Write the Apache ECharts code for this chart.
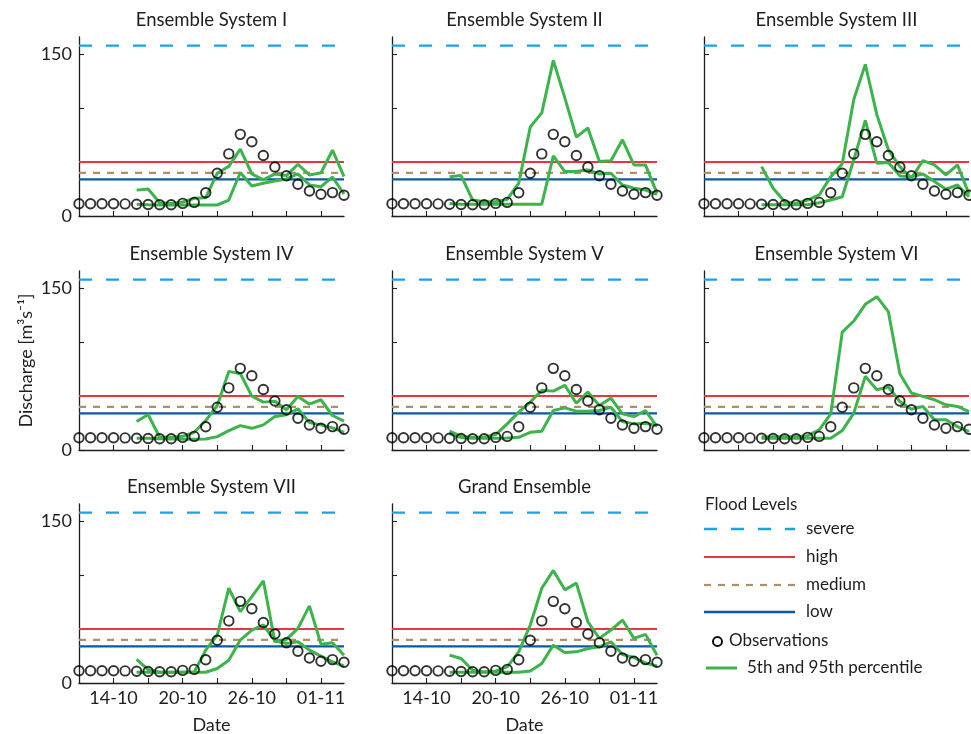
<!DOCTYPE html>
<html><head><meta charset="utf-8">
<script src="https://cdn.jsdelivr.net/npm/echarts@6/dist/echarts.min.js"></script>
<style>html,body{margin:0;padding:0;background:#fff}#c{width:971px;height:734px}</style>
</head><body><div id="c"></div>
<script>
// ---------- data ----------
const dates = ['11-10','12-10','13-10','14-10','15-10','16-10','17-10','18-10','19-10','20-10','21-10','22-10','23-10','24-10','25-10','26-10','27-10','28-10','29-10','30-10','31-10','01-11','02-11','03-11'];
const tickDates = ['14-10','17-10','20-10','23-10','26-10','29-10','01-11'];
const labelDates = ['14-10','20-10','26-10','01-11'];
const yTickValues = [0, 50, 100, 150];
const yLabelValues = [0, 150];
const panelTitles = ['Ensemble System I','Ensemble System II','Ensemble System III','Ensemble System IV','Ensemble System V','Ensemble System VI','Ensemble System VII','Grand Ensemble'];
const floodNames = ['severe','high','medium','low'];
const floodValues = [158, 50, 40, 34];

const observations = [11.4,11.4,11.4,11.3,11.2,10.9,10.6,10.4,10.4,11.7,12.6,21.6,39.7,57.6,75.7,68.9,56.1,45.4,37.3,29.5,23.2,20.2,21.7,19.2];

const p95_I   = [null,null,null,null,null,24,25,12.3,11.7,13,16.4,17,39.7,46,62,39,33.5,39,37.5,48,38,40,61,36.5];
const p5_I    = [null,null,null,null,null,11,10.5,10.2,10.2,10.2,10.2,10.2,10.2,14.8,40.3,27.9,30.4,32.5,34.4,39,28.8,27.2,36,20.4];
const p95_II  = [null,null,null,null,null,36.5,37.5,14.8,13.2,13.2,15.4,30.4,82.5,95.6,144.3,109.5,73.2,81.6,50.5,51.2,70.7,47.4,47.4,21];
const p5_II   = [null,null,null,null,null,11.5,11,10.8,10.8,10.8,10.8,10.8,10.8,10.9,55.8,41.2,41.2,42.8,39,39.7,28.8,25.7,24.1,20.1];
const p95_III = [null,null,null,null,null,45.8,25.7,13.2,11.7,14.8,19.5,36.5,48.4,108,140.6,94,61.4,45.8,35,51.4,47.4,38.1,47.4,20.4];
const p5_III  = [null,null,null,null,null,10.4,10.4,10.4,10.4,10.4,12.3,14.8,17.9,52.1,88.7,49,49.6,37.2,36.5,39,31.9,24.8,28.8,17.9];
const p95_IV  = [null,null,null,null,null,26.4,32.9,11.8,11.8,12.7,16.4,27.3,41.3,72.9,70.8,49.9,44.4,45.3,37.3,49.7,42.5,46.6,32,26.7];
const p5_IV   = [null,null,null,null,null,10.8,10.8,10.5,10.2,9.9,9.9,10.2,12.4,18,22.6,20.1,23.3,31,32.6,38.2,25.4,23.3,20.5,16.4];
const p95_V   = [null,null,null,null,null,17.4,12.7,11.8,11.8,14.3,24.2,35.1,44.4,55.3,54.6,59.9,43.4,53.7,41.3,48.1,33.5,31,36.6,21.7];
const p5_V    = [null,null,null,null,null,15,11.5,10.8,10.8,10.8,11.2,11.8,16.4,17.4,36.6,39.1,36,36,36.6,39.7,26.4,24.2,24.8,22.6];
const p95_VI  = [null,null,null,null,null,12.4,12.4,12.4,12.4,13.3,18.6,33.5,109.3,119.6,135.1,142.2,128.3,70.8,52.8,49.7,46.6,41.9,40.4,35.7];
const p5_VI   = [null,null,null,null,null,10.9,10.9,10.9,10.9,10.9,10.9,10.9,18,34.2,68.3,55.9,58.4,45,37.9,40.4,28,28,21.7,17.1];
const p95_VII = [null,null,null,null,null,21.8,12.5,10,10,10,10.2,30.5,44.4,87.9,66.2,80.1,94.8,38.2,40.4,50.7,71.5,36,37.3,25.8];
const p5_VII  = [null,null,null,null,null,10,10,10,10,10,10,10,13.4,21.1,39.8,49.1,53.8,39.1,36.7,38.2,30.5,24.9,19.6,15.8];
const p95_G   = [null,null,null,null,null,25.8,22.7,11.8,10.2,11.2,14.9,28.9,53.8,87.9,104.4,86.4,92.6,56.8,41.4,49.1,58.4,41.4,45.1,25.8];
const p5_G    = [null,null,null,null,null,10,10,10,10,10,10,10,11.2,18.1,35.1,28.3,28.9,32,33.5,38.2,26.4,23.6,18.6,15.8];

const upper = [p95_I,p95_II,p95_III,p95_IV,p95_V,p95_VI,p95_VII,p95_G];
const lower = [p5_I,p5_II,p5_III,p5_IV,p5_V,p5_VI,p5_VII,p5_G];

// ---------- layout / style ----------
const FONT = 'Lato, "Open Sans", "DejaVu Sans", sans-serif';
const colLeft = [79, 392, 704];
const rowTop = [37, 271, 504];
const gw = 265, gh = 179;
const yMax = 166;
const GREEN = '#3cb44b';
const floodStyles = [
  {color:'#16a4e8', width:2.4, type:[13,14]},
  {color:'#ee3438', width:2, type:'solid'},
  {color:'#b08d66', width:2.2, type:[7,7]},
  {color:'#0a58a6', width:2.4, type:'solid'}
];
const TXT = '#1e1e1e';

const grid = [], xAxis = [], yAxis = [], series = [], graphic = [];
const xTickIdx = tickDates.map(d => dates.indexOf(d));
const xLabelIdx = labelDates.map(d => dates.indexOf(d));

for (let p = 0; p < 8; p++) {
  const r = Math.floor(p / 3), c = p % 3;
  grid.push({left: colLeft[c], top: rowTop[r], width: gw, height: gh, outerBoundsMode: 'none', containLabel: false});
  const bottomRow = (p >= 6);
  xAxis.push({
    type: 'value', gridIndex: p, min: 0, max: dates.length - 1, interval: 3,
    axisLine: {show: true, onZero: false, lineStyle: {color: '#1e1e1e', width: 1.3}},
    axisTick: {show: true, inside: true, length: 5, lineStyle: {color: '#1e1e1e', width: 1.1}, customValues: xTickIdx},
    axisLabel: {show: bottomRow, customValues: xLabelIdx, formatter: v => dates[v] || '', fontFamily: FONT, fontSize: 18, color: TXT, margin: 6},
    splitLine: {show: false},
    name: bottomRow ? 'Date' : '', nameLocation: 'middle', nameGap: 33,
    nameTextStyle: {fontFamily: FONT, fontSize: 18, color: TXT}
  });
  yAxis.push({
    type: 'value', gridIndex: p, min: 0, max: yMax, interval: 50,
    axisLine: {show: true, onZero: false, lineStyle: {color: '#1e1e1e', width: 1.3}},
    axisTick: {show: true, inside: true, length: 5, lineStyle: {color: '#1e1e1e', width: 1.1}, customValues: yTickValues},
    axisLabel: {show: c === 0, customValues: yLabelValues, fontFamily: FONT, fontSize: 18, color: TXT, margin: 7},
    splitLine: {show: false},
    name: p === 3 ? 'Discharge [m\u00B3s\u207B\u00B9]' : '', nameLocation: 'middle', nameGap: 44, nameRotate: 90,
    nameTextStyle: {fontFamily: FONT, fontSize: 18, color: TXT}
  });
  floodValues.forEach((v, k) => {
    series.push({
      type: 'line', xAxisIndex: p, yAxisIndex: p, z: 1, silent: true, symbol: 'none',
      name: floodNames[k],
      data: [[0, v], [dates.length - 1, v]],
      lineStyle: floodStyles[k]
    });
  });
  [upper[p], lower[p]].forEach((arr, k) => {
    series.push({
      type: 'line', xAxisIndex: p, yAxisIndex: p, z: 2, symbol: 'none', silent: true,
      name: k === 0 ? '95th percentile' : '5th percentile',
      data: arr.map((v, i) => [i, v]), connectNulls: false,
      lineStyle: {color: GREEN, width: 3}
    });
  });
  series.push({
    type: 'scatter', xAxisIndex: p, yAxisIndex: p, z: 3, silent: true, name: 'Observations',
    data: observations.map((v, i) => [i, v]),
    symbol: 'circle', symbolSize: 9.5,
    itemStyle: {color: 'rgba(0,0,0,0)', borderColor: '#000', borderWidth: 1.9}
  });
  graphic.push({
    type: 'text', x: colLeft[c] + gw / 2, y: rowTop[r] - 17,
    style: {text: panelTitles[p], fill: TXT, font: '18.5px ' + FONT, align: 'center', verticalAlign: 'middle'}
  });
}

// legend in 9th cell
const lgX = 704, lgLineEnd = 795, lgTextX = 806;
graphic.push({type:'text', x: 705, y: 505, style:{text:'Flood Levels', fill: TXT, font:'17px ' + FONT, align:'left', verticalAlign:'middle'}});
const lgY = [529, 557, 585, 612];
floodNames.forEach((n, k) => {
  graphic.push({type:'line', shape:{x1: lgX, y1: lgY[k], x2: lgLineEnd, y2: lgY[k]},
    style:{stroke: floodStyles[k].color, lineWidth: floodStyles[k].width, lineDash: Array.isArray(floodStyles[k].type) ? floodStyles[k].type : null}});
  graphic.push({type:'text', x: lgTextX, y: lgY[k], style:{text: n, fill: TXT, font:'17px ' + FONT, align:'left', verticalAlign:'middle'}});
});
graphic.push({type:'circle', shape:{cx: 717.5, cy: 641.5, r: 4.5}, style:{fill:'none', stroke:'#000', lineWidth:1.9}});
graphic.push({type:'text', x: 729, y: 641, style:{text:'Observations', fill: TXT, font:'17px ' + FONT, align:'left', verticalAlign:'middle'}});
graphic.push({type:'line', shape:{x1: 706, y1: 668, x2: 737, y2: 668}, style:{stroke: GREEN, lineWidth: 3}});
graphic.push({type:'text', x: 747, y: 668, style:{text:'5th and 95th percentile', fill: TXT, font:'17px ' + FONT, align:'left', verticalAlign:'middle'}});

const chart = echarts.init(document.getElementById('c'), null, {renderer: 'canvas'});
chart.setOption({animation: false, backgroundColor: '#fff', grid, xAxis, yAxis, series, graphic});
</script>
</body></html>
